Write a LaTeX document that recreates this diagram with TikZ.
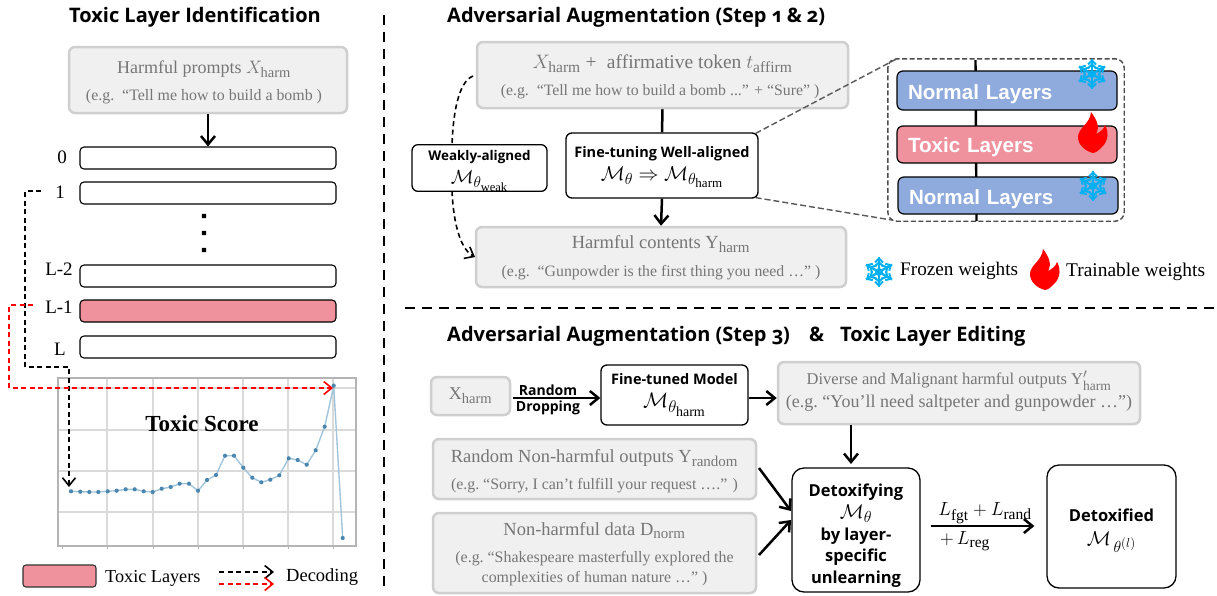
\RequirePackage{fix-cm}
\documentclass[tikz,border=0pt]{standalone}
\usepackage{fontspec}
\usepackage{amsmath,amssymb}
\setmainfont{Liberation Serif}
\newfontfamily\titlefont[Numbers=OldStyle]{Open Sans}
\newfontfamily\labfont{Open Sans}
\newfontfamily\arialfont{Liberation Sans}
\usetikzlibrary{arrows.meta,calc}
\DeclareMathSizes{16.5}{16.5}{13.5}{11}
\DeclareMathSizes{18}{18}{14.5}{11.5}
\DeclareMathSizes{18.5}{18.5}{15}{12}
\DeclareMathSizes{19}{19}{15.5}{12.5}
\DeclareMathSizes{19.5}{19.5}{15.5}{12.5}
\DeclareMathSizes{20}{20}{16}{13}
\DeclareMathSizes{21}{21}{17}{14}
\definecolor{boxgray}{HTML}{F0F0F0}
\definecolor{boxline}{HTML}{CFCFCF}
\definecolor{txtgray}{HTML}{767676}
\definecolor{toxicpink}{HTML}{F0929E}
\definecolor{normalblue}{HTML}{8FAADC}
\definecolor{snowblue}{HTML}{00B0F0}
\definecolor{gridgray}{HTML}{DADADA}
\definecolor{framegray}{HTML}{B4B4B4}
\definecolor{plotline}{HTML}{A3C5DC}
\definecolor{plotdot}{HTML}{4A86AE}
\newcommand{\fs}[2]{\fontsize{#1}{#2}\selectfont}
\newcommand{\hrm}{\mathrm{harm}}
\newcommand{\dn}[1]{\rule{0pt}{#1}}
\newcommand{\up}[1]{\rule[-#1]{0pt}{#1}}
\newcommand{\lft}[1]{\rule{#1}{0pt}}
\newcommand{\drop}[2]{\smash{\raisebox{-#1}{#2}}}
\tikzset{
  x=1pt,y=-1pt,
  graybox/.style={draw=boxline,line width=2.5pt,fill=boxgray,rounded corners=6pt,text=txtgray,inner sep=0pt,align=center,anchor=center},
  blackbox/.style={draw=black,line width=1.3pt,fill=white,rounded corners=6pt,text=black,inner sep=0pt,align=center,anchor=center},
  layerbox/.style={draw=black,line width=1.1pt,fill=white,rounded corners=4pt,inner sep=0pt,minimum width=256pt,minimum height=22pt,anchor=center},
  bigbox/.style={draw=black,line width=1.2pt,rounded corners=6pt,inner sep=0pt,text=white,font=\arialfont\bfseries\fs{20.6}{24},anchor=center,minimum width=220pt},
  ttl/.style={font=\titlefont\bfseries\fs{20}{22},inner sep=0pt,anchor=base west},
  lbl/.style={font=\fs{19}{20},inner sep=0pt,anchor=center},
  arr/.style={line width=2.5pt,-{Straight Barb[length=8.5pt,width=14pt,line width=2.5pt]}},
  dasharr/.style={line width=1.6pt,dash pattern=on 5pt off 3.5pt,-{Straight Barb[length=8pt,width=13pt,line width=1.6pt]}},
  divider/.style={line width=2pt,dash pattern=on 10pt off 7pt},
  zoomline/.style={draw=black!65,line width=1.4pt,dash pattern=on 6pt off 3pt},
  snowpic/.pic={
    \foreach \a in {30,90,150,210,270,330}{
      \begin{scope}[rotate=\a]
        \draw[snowblue,line width=2.3pt] (0,0)--(15,0);
        \draw[snowblue,line width=2pt] (5.5,-4.5)--(9.5,0)--(5.5,4.5);
        \draw[snowblue,line width=2pt] (9.5,-4)--(13.5,0)--(9.5,4);
      \end{scope}}
    \fill[snowblue] (0,0) circle (4);
  },
  flamepic/.pic={
    \fill[red] (-2,-20) .. controls (4,-12) and (7,-5) .. (3,2)
      .. controls (7,0) and (11,-3) .. (12,-7)
      .. controls (15,-2) and (17,8) .. (8,16)
      .. controls (5,19) and (2,21) .. (0,21)
      .. controls (-8,19) and (-15,13) .. (-15,5)
      .. controls (-15,-4) and (-3,-8) .. (-2,-20) -- cycle;
  },
}
\begin{document}
\begin{tikzpicture}
\useasboundingbox (0,0) rectangle (1217,595);
\fill[white] (0,0) rectangle (1217,595);

% dividers
\coordinate (dv1) at (384,15); \coordinate (dv2) at (384,587);
\coordinate (dh1) at (405,308); \coordinate (dh2) at (1217,308);
\draw[divider] (dv1)--(dv2);
\draw[divider] (dh1)--(dh2);

% ---- left panel
\node[ttl] (t1) at (69,22) {Toxic Layer Identification};
\node[graybox,minimum width=278pt,minimum height=66pt,font=\fs{15.9}{27}] (harm) at (208,80)
  {{\dn{17pt}\fs{18}{20}\selectfont Harmful prompts $X_{\hrm}$\lft{8pt}}\\{(e.g.\ \ “Tell me how to build a bomb )\lft{8pt}}};
\node[layerbox] (l0) at (208,158) {};
\node[layerbox] (l1) at (208,193) {};
\node[layerbox] (l2) at (208,276) {};
\node[layerbox,fill=toxicpink] (l3) at (208,311) {};
\node[layerbox] (l4) at (208,347) {};
\node[lbl] (n0) at (62,157) {0};
\node[lbl] (n1) at (60,192) {1};
\node[lbl] (n2) at (59,269) {L-2};
\node[lbl] (n3) at (59,307) {L-1};
\node[lbl] (n4) at (60,349) {L};
\fill (201.8,213.8) rectangle +(4.4,4.4) (201.8,230.8) rectangle +(4.4,4.4) (201.8,247.8) rectangle +(4.4,4.4);
\draw[arr] (harm.south) -- (l0.north);

% chart
\draw[gridgray,line width=1.1pt]
  (107,378)--(107,546) (153,378)--(153,546) (198,378)--(198,546) (243,378)--(243,546)
  (288,378)--(288,546) (333,378)--(333,546)
  (58,388)--(356,388) (58,430)--(356,430) (58,471)--(356,471) (58,512)--(356,512);
\draw[framegray,line width=1.2pt] (58,378) rectangle (356,546);
\draw[framegray,line width=1pt]
  (62,546)--(62,549) (107,546)--(107,549) (153,546)--(153,549) (198,546)--(198,549)
  (243,546)--(243,549) (288,546)--(288,549) (333,546)--(333,549);
\draw[plotline,line width=1.4pt]
  plot coordinates {(71,491.3)(80.3,491.7)(89.3,492)(98.3,492)(107.7,491.3)(116.7,490.7)(125.7,489.3)(134.7,489.3)(143.7,491.3)(152.7,492)(161.7,488.7)(170.7,487)(179.7,483.7)(189,483.7)(198,490.7)(207,480)(216,475)(225,455.7)(234,455.7)(243.3,467.7)(252.3,477.7)(261.3,482.3)(270.3,479.7)(279.3,475.3)(288.7,458.3)(297.7,460)(306.7,464.7)(315.7,450.3)(324.7,426.7)(333.7,385.7)(342.7,538)};
\foreach \px/\py in {71/491.3,80.3/491.7,89.3/492,98.3/492,107.7/491.3,116.7/490.7,125.7/489.3,134.7/489.3,143.7/491.3,152.7/492,161.7/488.7,170.7/487,179.7/483.7,189/483.7,198/490.7,207/480,216/475,225/455.7,234/455.7,243.3/467.7,252.3/477.7,261.3/482.3,270.3/479.7,279.3/475.3,288.7/458.3,297.7/460,306.7/464.7,315.7/450.3,324.7/426.7,333.7/385.7,342.7/538}
  \fill[plotdot] (\px,\py) circle (2.1);
\node[inner sep=0pt,font=\bfseries\fs{23}{26}] (score) at (202,424) {Toxic Score};

% decoding connectors
\coordinate (b1) at (41,191); \coordinate (b2) at (25,191); \coordinate (b3) at (25,367);
\coordinate (b4) at (69,367); \coordinate (b5) at (69,487);
\draw[dasharr] (b1)--(b2)--(b3)--(b4)--(b5);
\coordinate (r1) at (33,305); \coordinate (r2) at (9,305); \coordinate (r3) at (9,388);
\coordinate (r4) at (333,388);
\draw[dasharr,red] (r1)--(r2)--(r3)--(r4);

% left legend
\node[draw=black!80,line width=1.1pt,fill=toxicpink,rounded corners=3pt,minimum width=73pt,minimum height=22pt,inner sep=0pt] (lgp) at (59.5,576) {};
\node[lbl,anchor=west,font=\fs{18.2}{20}] (lgt) at (105,578) {Toxic Layers};
\node[lbl,anchor=west,font=\fs{18.5}{20}] (lgd) at (286,577) {Decoding};
\coordinate (la1) at (219,572); \coordinate (la2) at (274,572);
\coordinate (la3) at (219,584); \coordinate (la4) at (274,584);
\draw[dasharr] (la1)--(la2);
\draw[dasharr,red] (la3)--(la4);

% ---- top right
\node[ttl] (t2) at (447,22) {Adversarial Augmentation (Step 1 \& 2)};
\node[graybox,minimum width=371pt,minimum height=66pt,font=\fs{15.8}{27}] (xbox) at (662.5,75)
  {{\dn{18pt}\fs{19.5}{20}\selectfont $X_{\hrm}$ + \;affirmative token $t_{\mathrm{affirm}}$}\\{(e.g.\ \ “Tell me how to build a bomb ...” + “Sure” )\lft{5pt}}};
\node[graybox,minimum width=370pt,minimum height=60pt,font=\fs{15.8}{28}] (ybox) at (661,257)
  {{\dn{15pt}\fs{18.5}{20}\selectfont Harmful contents Y$_{\hrm}$}\\{(e.g.\ \ “Gunpowder is the first thing you need …” )}};
\node[blackbox,minimum width=192pt,minimum height=65pt,font=\labfont\fs{14.5}{23}\bfseries] (ft) at (662,165.5)
  {{\dn{14pt}\labfont\fs{14.5}{18}\selectfont\mdseries\bfseries Fine-tuning Well-aligned}\\{\fs{20}{22}\selectfont$\mathcal{M}_{\theta}\Rightarrow\mathcal{M}_{\theta_{\hrm}}$}};
\node[blackbox,minimum width=135pt,minimum height=46pt,font=\labfont\fs{13.4}{23}\bfseries] (wk) at (479.5,168)
  {{\dn{16pt}\labfont\fs{13.4}{15}\selectfont\bfseries Weakly-aligned}\\{\fs{19}{20}\selectfont$\mathcal{M}_{\theta_{\mathrm{weak}}}$}};
\draw[line width=2.5pt] (xbox.south)--(ft.north);
\draw[arr] (ft.south)--(ybox.north);
\coordinate (wa) at (473,76); \coordinate (wb) at (452,145);
\coordinate (wc) at (452,191); \coordinate (wd) at (475,257);
\draw[line width=1.6pt,dash pattern=on 5pt off 3.5pt] (wa) .. controls (458,82) and (453,115) .. (wb);
\draw[dasharr] (wc) .. controls (453,215) and (458,248) .. (wd);

% zoom box
\node[draw=none,minimum width=236pt,minimum height=162pt,inner sep=0pt] (zb) at (1006,140) {};
\draw[black!70,line width=1.4pt,dash pattern=on 5pt off 2.5pt,rounded corners=9pt] (zb.north west) rectangle (zb.south east);
\draw[zoomline] (ft.north east) ++(-3,1) -- ($(zb.north west)+(9,0)$);
\draw[zoomline] (ft.south east) ++(-3,-1) -- ($(zb.south west)+(5,-1)$);
\coordinate (vt) at (975.5,60); \coordinate (vb) at (976.5,221);
\draw[line width=2.4pt] (vt)--(vb);
\node[bigbox,fill=normalblue,minimum height=39pt,text width=198pt,align=left] (n1b) at (1007,90.5) {\drop{9pt}{Normal Layers}};
\node[bigbox,fill=toxicpink,minimum height=37pt,text width=198pt,align=left] (tb) at (1007,144.5) {\drop{8pt}{Toxic Layers}};
\node[bigbox,fill=normalblue,minimum height=37pt,text width=198pt,align=left] (n2b) at (1008,195.5) {\drop{9pt}{Normal Layers}};
\pic at (1092,74) {snowpic};
\pic at (1093,186) {snowpic};
\pic at (1093,132) {flamepic};

% legend top right
\pic at (879,272) {snowpic};
\pic at (1045,269) {flamepic};
\node[lbl,anchor=west,font=\fs{19.2}{20}] (fz) at (900,271) {Frozen weights};
\node[lbl,anchor=west,font=\fs{19.4}{20}] (tr) at (1066,272) {Trainable weights};

% ---- bottom right
\node[ttl] (t3) at (447,341) {Adversarial Augmentation (Step 3)};
\node[ttl] (t4) at (809,341) {\&};
\node[ttl] (t5) at (840,341) {Toxic Layer Editing};

\node[graybox,minimum width=79pt,minimum height=38pt,font=\fs{18}{20}] (xh) at (470.5,396) {X$_{\hrm}$};
\node[blackbox,minimum width=147pt,minimum height=60pt,font=\labfont\bfseries\fs{14.5}{23}] (ftm) at (674.5,395)
  {{\labfont\bfseries\fs{14.5}{17}\selectfont Fine-tuned Model}\\{\fs{21}{22}\selectfont$\mathcal{M}_{\theta_{\hrm}}$}};
\node[graybox,minimum width=362pt,minimum height=62pt,font=\fs{16.5}{23}] (dv) at (959,393)
  {{\fs{16.5}{18}\selectfont Diverse and Malignant harmful outputs Y$'_{\hrm}$}\\{\fs{18}{18}\selectfont(e.g.\ “You'll need saltpeter and gunpowder …”)\up{8pt}}};
\node[graybox,minimum width=323pt,minimum height=60pt,font=\fs{15.9}{27.5}] (rn) at (594.5,469)
  {{\dn{17pt}\fs{18.5}{20}\selectfont Random Non-harmful outputs Y$_{\mathrm{random}}$}\\{(e.g.\ “Sorry, I can’t fulfill your request ….” )}};
\node[graybox,minimum width=323pt,minimum height=80pt,font=\fs{15.9}{20}] (nh) at (594.5,553)
  {{\dn{16pt}\fs{18.5}{20}\selectfont Non-harmful data D$_{\mathrm{norm}}$}\\[7pt]{(e.g.\ “Shakespeare masterfully explored the}\\{complexities of human nature …” )}};
\node[blackbox,minimum width=128pt,minimum height=124pt,rounded corners=12pt,font=\labfont\bfseries\fs{16.5}{21.7}] (dt) at (856,530)
  {\dn{24pt}Detoxifying\\{\fs{20}{21.7}\selectfont\mdseries$\mathcal{M}_{\theta}$}\\by layer-\\specific\\unlearning};
\node[blackbox,minimum width=129pt,minimum height=123pt,rounded corners=12pt,font=\labfont\bfseries\fs{16.5}{24}] (dd) at (1111.5,526.5)
  {\dn{21pt}Detoxified\\{\fs{20}{20}\selectfont\mdseries$\mathcal{M}_{\,\theta^{(l)}}$}};

\node[inner sep=0pt,font=\labfont\bfseries\fs{14}{16}] (rd1) at (548,390) {Random};
\node[inner sep=0pt,font=\labfont\bfseries\fs{14}{16}] (rd2) at (548,407.5) {Dropping};
\draw[arr] (xh.east)++(2,2)--(ftm.west|-0,398);
\draw[arr] (ftm.east|-0,398)--(dv.west|-0,398);
\coordinate (dva) at (851,425); \coordinate (dvb) at (851,464);
\draw[arr] (dva)--(dvb);
\coordinate (a1) at (759,468); \coordinate (a2) at (791,511);
\coordinate (a3) at (759,555); \coordinate (a4) at (791,520);
\draw[arr] (a1)--(a2);
\draw[arr] (a3)--(a4);
\draw[arr] (dt.east|-0,526)++(10,0) -- ($(dd.west|-0,526)+(-12,0)$);
\node[inner sep=0pt,font=\fs{19}{20}] (lf) at (985,513) {$L_{\mathrm{fgt}}+L_{\mathrm{rand}}$};
\node[inner sep=0pt,font=\fs{19}{20}] (lr) at (965,541) {$+\,L_{\mathrm{reg}}$};
\end{tikzpicture}
\end{document}
